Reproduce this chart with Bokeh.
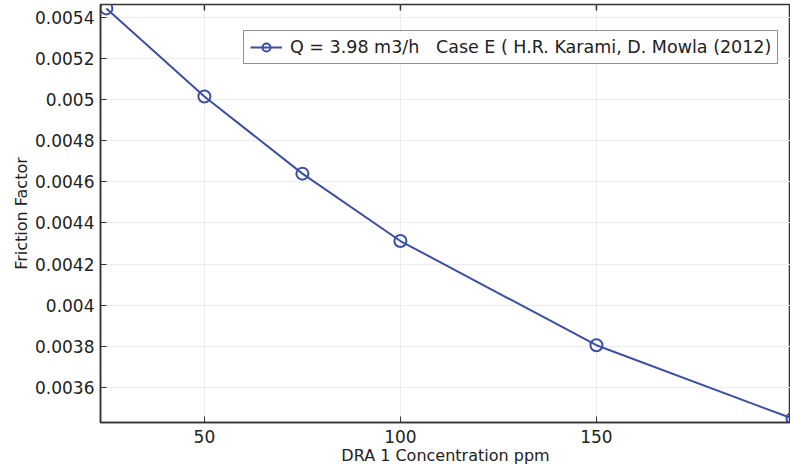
import math
from bokeh.plotting import figure
from bokeh.models import FixedTicker, CustomJSTickFormatter, Legend, LegendItem, Range1d
from bokeh.embed import file_html
from bokeh.resources import INLINE

conc = [25, 50, 75, 100, 150, 200]
friction = [0.005444, 0.005015, 0.00464, 0.004312, 0.003805, 0.003448]
x_ticks = [50, 100, 150]
y_ticks = [0.0036, 0.0038, 0.004, 0.0042, 0.0044, 0.0046, 0.0048, 0.005, 0.0052, 0.0054]
series_label = "Q = 3.98 m3/h   Case E ( H.R. Karami, D. Mowla (2012)"

FONT = "DejaVu Sans"
BLUE = "#3c4fa6"
X0, X1 = 23.5, 199.5
Y0, Y1 = 0.003429, 0.005463

p = figure(width=790, height=467, output_backend="svg", toolbar_location=None,
           x_range=Range1d(X0, X1), y_range=Range1d(Y0, Y1),
           min_border_left=100, min_border_right=0, min_border_top=4, min_border_bottom=45)
p.background_fill_color = "white"
p.border_fill_color = "white"
p.outline_line_color = "#333333"
p.outline_line_width = 1.5

p.xgrid.ticker = FixedTicker(ticks=x_ticks)
p.ygrid.ticker = FixedTicker(ticks=y_ticks)
p.grid.grid_line_color = "#ececec"
p.grid.grid_line_width = 1

line = p.line(conc, friction, line_color=BLUE, line_width=2)
pts = p.scatter(conc, friction, size=12, marker="circle", fill_color=None,
                line_color=BLUE, line_width=2)

# inward ticks on the top frame edge
p.ray(x=x_ticks, y=[Y1] * len(x_ticks), length=6, length_units="screen",
      angle=-math.pi / 2, line_color="#333333", line_width=1.5)

for ax in (p.xaxis[0], p.yaxis[0]):
    ax.major_tick_in = 6
    ax.major_tick_out = 0
    ax.minor_tick_line_color = None
    ax.axis_line_color = "#333333"
    ax.axis_line_width = 1.5
    ax.major_tick_line_color = "#333333"
    ax.major_label_text_font = FONT
    ax.major_label_text_font_size = "17px"
    ax.major_label_text_color = "#222222"
    ax.axis_label_text_font = FONT
    ax.axis_label_text_font_size = "16px"
    ax.axis_label_text_font_style = "normal"
    ax.axis_label_text_color = "#222222"

p.xaxis.ticker = FixedTicker(ticks=x_ticks)
p.yaxis.ticker = FixedTicker(ticks=y_ticks)
p.yaxis.formatter = CustomJSTickFormatter(code="return parseFloat(tick.toPrecision(4)).toString();")
p.xaxis.major_label_standoff = 7
p.yaxis.major_label_standoff = 6
p.xaxis.axis_label = "DRA 1 Concentration ppm"
p.xaxis.axis_label_standoff = 0
p.yaxis.axis_label = "Friction Factor"
p.yaxis.axis_label_standoff = 1

legend = Legend(items=[LegendItem(label=series_label, renderers=[line, pts])],
                location=(143, 358))
legend.label_text_font = FONT
legend.label_text_font_size = "17.5px"
legend.label_text_color = "#222222"
legend.border_line_color = "#222222"
legend.border_line_width = 1.5
legend.padding = 6
legend.glyph_width = 32
legend.glyph_height = 20
legend.label_height = 20
legend.label_standoff = 8
legend.background_fill_alpha = 1
p.add_layout(legend)

open("out.html", "w").write(file_html(p, INLINE))
